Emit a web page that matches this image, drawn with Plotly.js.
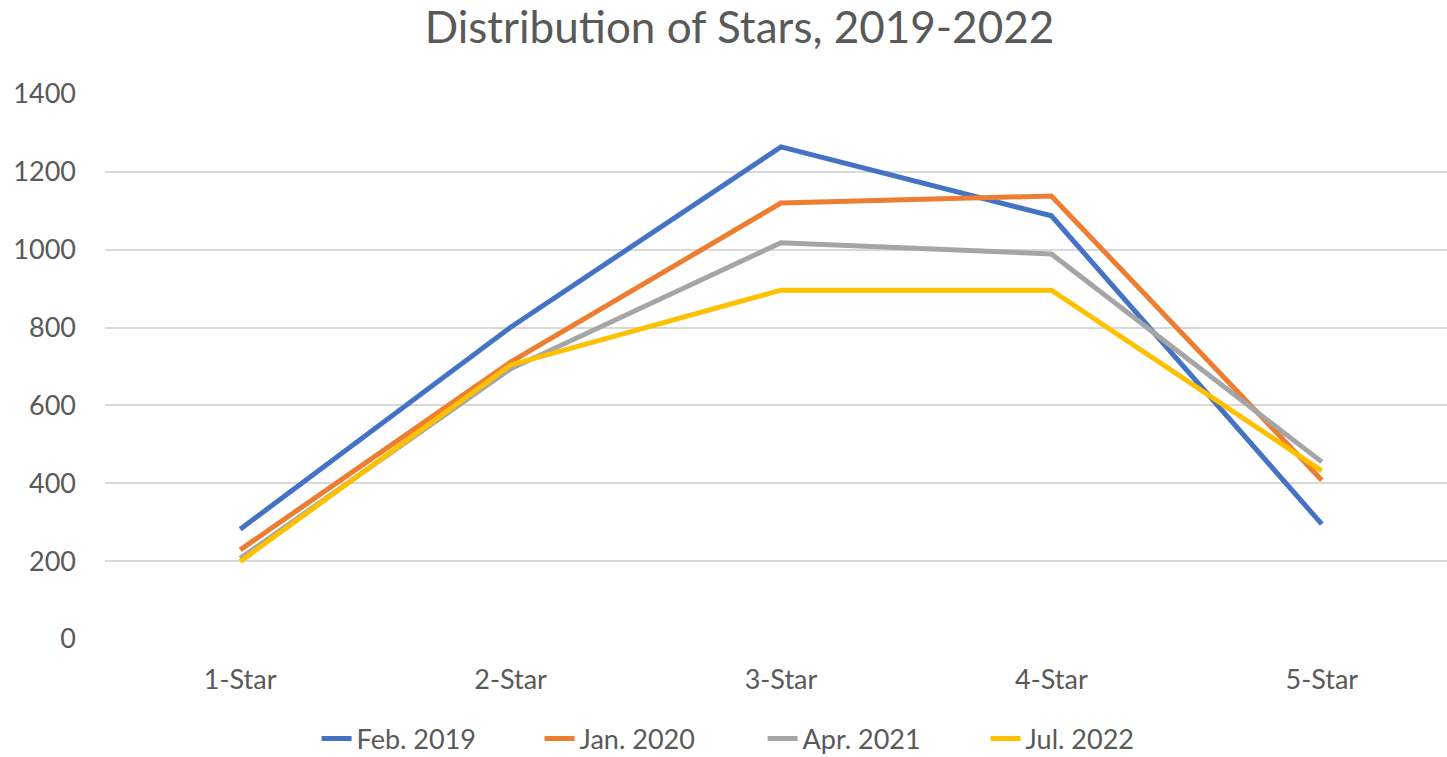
<!DOCTYPE html>
<html>
<head>
<meta charset="utf-8">
<script src="https://cdn.plot.ly/plotly-3.0.1.min.js"></script>
<style>html,body{margin:0;padding:0;background:#fff;}#chart{width:1447px;height:757px;}</style>
</head>
<body>
<div id="chart"></div>
<script>
const categories = ["1-Star", "2-Star", "3-Star", "4-Star", "5-Star"];
const feb2019 = [282, 801, 1264, 1087, 295];
const jan2020 = [229, 711, 1120, 1138, 408];
const apr2021 = [207, 694, 1018, 989, 455];
const jul2022 = [199, 704, 896, 896, 432];
const seriesNames = ["Feb. 2019", "Jan. 2020", "Apr. 2021", "Jul. 2022"];
const seriesColors = ["#4472C4", "#ED7D31", "#A5A5A5", "#FFC000"];
const yTicks = [0, 200, 400, 600, 800, 1000, 1200, 1400];

const allSeries = [feb2019, jan2020, apr2021, jul2022];
const font = "Lato, 'Open Sans', sans-serif";
const traces = allSeries.map((vals, i) => ({
  x: categories,
  y: vals,
  type: "scatter",
  mode: "lines",
  name: seriesNames[i],
  line: {color: seriesColors[i], width: 5}
}));

const layout = {
  width: 1447,
  height: 757,
  margin: {l: 105, r: 0, t: 94, b: 118},
  paper_bgcolor: "#ffffff",
  plot_bgcolor: "#ffffff",
  font: {family: font, color: "#595959", size: 27},
  title: {
    text: "Distribution of Stars, 2019-2022",
    font: {family: font, size: 44, color: "#595959"},
    xref: "container", x: 0.511, xanchor: "center",
    yref: "container", y: 0.963, yanchor: "middle"
  },
  xaxis: {
    type: "category",
    range: [-0.5, 4.463],
    showgrid: false,
    zeroline: false,
    showline: false,
    ticks: "",
    ticklabelstandoff: 22,
    tickfont: {family: font, size: 27, color: "#595959"}
  },
  yaxis: {
    range: [0, 1400],
    tickvals: yTicks,
    showgrid: true,
    gridcolor: "#d9d9d9",
    gridwidth: 2,
    zeroline: false,
    showline: false,
    ticks: "",
    ticklabelstandoff: 28,
    tickfont: {family: font, size: 27, color: "#595959"}
  },
  showlegend: true,
  legend: {
    orientation: "h",
    xref: "paper", x: 0.49, xanchor: "center",
    yref: "container", y: 0.024, yanchor: "middle",
    font: {family: font, size: 27, color: "#595959"},
    entrywidth: 178,
    tracegroupgap: 0
  }
};

Plotly.newPlot("chart", traces, layout, {displayModeBar: false, staticPlot: true});
</script>
</body>
</html>
